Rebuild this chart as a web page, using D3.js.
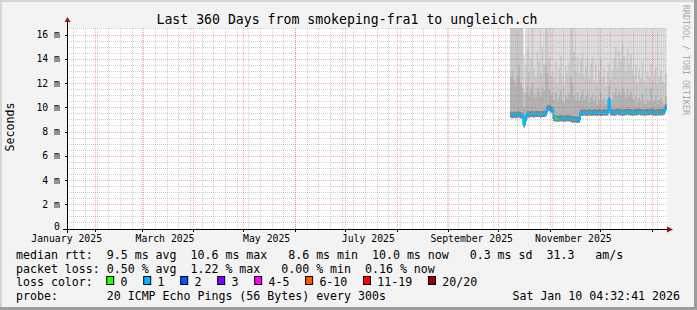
<!DOCTYPE html>
<html>
<head>
<meta charset="utf-8">
<script src="https://cdn.jsdelivr.net/npm/d3@7"></script>
<style>
  body { margin: 0; background: #f3f3f3; }
  svg { display: block; }
  text { font-family: "DejaVu Sans Mono", monospace; white-space: pre; }
</style>
</head>
<body>
<div class="panel"></div>
<script>
const width = 697;
const height = 310;
const plot = {left: 67, right: 667, top: 28, bottom: 228.5};

// one bin per day, starting 2025-10-08
const firstDay = Date.UTC(2025, 9, 8);

const median = [
  9.4, 9.35, 9.4, 9.35, 9.4, 9.4, 9.35, 9.3,
  8.6, 9.1,
  9.45, 9.4, 9.45, 9.45, 9.4, 9.45, 9.45, 9.45, 9.4, 9.45, 9.45, 9.5,
  9.9, 9.95, 9.85, 9.8,
  9.1, 9.1, 9.05, 9.1, 9.1, 9.1, 9.05, 9.1, 9.1, 9.1, 9.05, 9.0, 9.0,
  9.0, 8.95, 9.0,
  9.55, 9.55, 9.6, 9.55, 9.55, 9.6, 9.55, 9.55, 9.6, 9.55, 9.55, 9.6, 9.55, 9.55, 9.6, 9.55, 9.6,
  10.6,
  9.6, 9.6, 9.55, 9.6, 9.65, 9.6, 9.6, 9.55, 9.6, 9.6, 9.65, 9.6, 9.6, 9.55, 9.6, 9.6, 9.6,
  9.65, 9.6, 9.6, 9.55, 9.6, 9.6, 9.6, 9.65, 9.6, 9.6, 9.55, 9.6, 9.6, 9.6, 9.6, 9.65,
  10.0
];
const loss = [
  1, 1, 1, 1, 1, 1, 1, 1, 1, 1, 1, 1, 1, 1, 1, 1, 1, 1, 1, 1, 1, 1, 1, 1, 1, 1,
  1, 0, 0, 1, 1, 1, 1, 1, 1, 1, 1, 1, 1, 1, 1, 1,
  1, 1, 1, 1, 1, 1, 1, 1, 1, 1, 1, 1, 1, 1, 1, 1, 1, 1,
  1, 1, 1, 1, 1, 1, 1, 1, 1, 1, 1, 1, 1, 1, 1, 1, 1,
  1, 1, 1, 1, 1, 1, 1, 1, 1, 1, 1, 1, 1, 1, 1, 1, 1
];
const pingMax = [
  17.5, 17.5, 17.5, 17.5, 17.5, 17.5, 17.5, 17.5, 14.3, 17.5,
  17.5, 17.5, 17.5, 17.5, 17.5, 17.5, 17.5, 17.5, 17.5, 17.5, 17.5, 17.5, 17.5, 17.5, 17.5, 17.5,
  17.5, 17.5, 17.5, 17.5, 17.5, 17.5, 17.5, 17.5, 17.5, 17.5, 17.5, 17.5, 17.5, 17.5, 17.5, 17.5,
  17.5, 17.5, 17.5, 17.5, 17.5, 17.5, 17.5, 17.5, 17.5, 17.5, 17.5, 17.5, 17.5, 17.5, 17.5, 17.5,
  17.5, 17.5, 17.5, 17.5, 17.5, 17.5, 17.5, 17.5, 17.5, 17.5, 17.5, 17.5, 17.5, 17.5, 17.5, 17.5,
  17.5, 17.5, 17.5, 17.5, 17.5, 17.5, 17.5, 17.5, 17.5, 17.5, 17.5, 17.5, 17.5, 17.5, 17.5, 17.5,
  17.5, 17.5, 17.5, 17.5
];
const ping90 = [
  17.5, 17.5, 17.5, 17.5, 17.5, 17.5, 17.5, 17.5,
  11.2,
  13.5, 14.8, 13.0, 14.0, 16.5, 13.2, 12.5, 14.6, 13.8, 12.8, 15.0,
  13.6, 17.5, 17.5, 14.0, 12.6, 13.0,
  12.4, 13.8, 12.0, 13.2, 14.2, 12.6, 11.8, 13.4, 12.8, 13.6,
  17.5, 17.5, 14.6,
  13.0, 14.2, 12.8, 13.9, 14.5, 12.6, 13.3, 14.0, 12.4, 13.6, 14.1,
  12.2, 13.5, 11.9, 13.0, 14.0, 12.5, 13.2, 11.8, 12.9, 13.6, 12.3, 13.1,
  14.0, 15.0, 13.2, 14.6, 13.8, 15.2, 14.2, 13.0, 14.8, 13.6, 14.4, 13.1,
  12.6, 13.5, 12.0, 13.2, 12.4, 13.8, 12.2, 11.8, 13.0, 12.5, 13.6, 12.1, 12.8, 13.3, 11.9, 12.6,
  13.1, 12.3, 12.0, 12.8
];
const ping75 = [
  12.5, 13.0, 12.2, 11.8, 12.6, 13.4, 12.0, 11.6,
  10.0,
  11.2, 11.8, 10.9, 11.5, 12.0, 11.0, 10.8, 11.6, 11.3, 10.9, 11.7,
  11.4, 13.5, 12.8, 11.5, 11.0, 11.2,
  10.6, 11.2, 10.4, 10.9, 11.4, 10.5, 10.3, 11.0, 10.7, 11.1,
  12.5, 12.0, 11.0,
  10.6, 11.2, 10.5, 11.0, 11.4, 10.6, 10.9, 11.3, 10.4, 10.8, 11.1,
  10.5, 10.9, 10.3, 10.7, 11.2, 10.5, 10.8, 10.3, 10.6, 11.8, 10.4, 10.7,
  11.2, 11.6, 10.9, 11.4, 11.0, 11.7, 11.3, 10.8, 11.5, 11.0, 11.3, 10.8,
  10.6, 11.0, 10.4, 10.8, 10.5, 11.1, 10.4, 10.3, 10.7, 10.5, 11.5, 10.4, 10.6, 10.9, 10.3, 10.6,
  10.8, 10.4, 10.3, 10.9
];
const ping60 = [
  9.65, 9.6, 9.65, 9.6, 9.65, 9.65, 9.6, 9.55,
  8.85, 9.35,
  9.7, 9.65, 9.7, 9.7, 9.65, 9.7, 9.7, 9.7, 9.65, 9.7, 9.7, 9.75,
  10.15, 10.2, 10.1, 10.05,
  9.35, 9.35, 9.3, 9.35, 9.35, 9.35, 9.3, 9.35, 9.35, 9.35, 9.3, 9.25, 9.25,
  9.25, 9.2, 9.25,
  9.8, 9.8, 9.85, 9.8, 9.8, 9.85, 9.8, 9.8, 9.85, 9.8, 9.8, 9.85, 9.8, 9.8, 9.85, 9.8, 9.85,
  10.85,
  9.85, 9.85, 9.8, 9.85, 9.9, 9.85, 9.85, 9.8, 9.85, 9.85, 9.9, 9.85, 9.85, 9.8, 9.85, 9.85, 9.85,
  9.9, 9.85, 9.85, 9.8, 9.85, 9.85, 9.85, 9.9, 9.85, 9.85, 9.8, 9.85, 9.85, 9.85, 9.85, 9.9,
  10.25
];
const pingMin = [
  9.15, 9.1, 9.15, 9.1, 9.15, 9.15, 9.1, 9.05,
  8.35, 8.85,
  9.2, 9.15, 9.2, 9.2, 9.15, 9.2, 9.2, 9.2, 9.15, 9.2, 9.2, 9.25,
  9.65, 9.7, 9.6, 9.55,
  8.85, 8.85, 8.8, 8.85, 8.85, 8.85, 8.8, 8.85, 8.85, 8.85, 8.8, 8.75, 8.75,
  8.75, 8.7, 8.75,
  9.3, 9.3, 9.35, 9.3, 9.3, 9.35, 9.3, 9.3, 9.35, 9.3, 9.3, 9.35, 9.3, 9.3, 9.35, 9.3, 9.35,
  10.35,
  9.35, 9.35, 9.3, 9.35, 9.4, 9.35, 9.35, 9.3, 9.35, 9.35, 9.4, 9.35, 9.35, 9.3, 9.35, 9.35, 9.35,
  9.4, 9.35, 9.35, 9.3, 9.35, 9.35, 9.35, 9.4, 9.35, 9.35, 9.3, 9.35, 9.35, 9.35, 9.35, 9.4,
  9.75
];

const yTicks = [0, 2, 4, 6, 8, 10, 12, 14, 16];
const yTickLabels = ["0", "2 m", "4 m", "6 m", "8 m", "10 m", "12 m", "14 m", "16 m"];
const xLabelDays = ["2025-01-15", "2025-03-15", "2025-05-15", "2025-07-15", "2025-09-15", "2025-11-15"];
const lossLabels = ["0", "1", "2", "3", "4-5", "6-10", "11-19", "20/20"];
const lossColors = ["#26ff00", "#00b8ff", "#0059ff", "#7e00ff", "#ff00ff", "#ff5500", "#ff0000", "#a10000"];
const legendRows = [
  "median rtt:  9.5 ms avg  10.6 ms max   8.6 ms min  10.0 ms now   0.3 ms sd  31.3   am/s",
  "packet loss: 0.50 % avg  1.22 % max   0.00 % min  0.16 % now"
];

const startTime = new Date(Date.UTC(2025, 0, 15, 4, 32, 41));
const endTime = new Date(Date.UTC(2026, 0, 10, 4, 32, 41));

const x = d3.scaleUtc().domain([startTime, endTime]).range([plot.left, plot.right]);
const y = d3.scaleLinear().domain([0, 16.54]).range([plot.bottom, plot.top]);

const bins = median.map((m, i) => ({
  t0: new Date(firstDay + i * 864e5),
  t1: new Date(firstDay + (i + 1) * 864e5),
  median: m, loss: loss[i],
  max: pingMax[i], p90: ping90[i], p75: ping75[i], p60: ping60[i], min: pingMin[i]
}));

const svg = d3.select(".panel").append("svg")
  .attr("width", width).attr("height", height);

// frame
svg.append("rect").attr("width", width).attr("height", height).attr("fill", "#f3f3f3");
svg.append("rect").attr("x", 0).attr("y", 0).attr("width", width).attr("height", 2).attr("fill", "#d6d6d6");
svg.append("rect").attr("x", 0).attr("y", 0).attr("width", 2).attr("height", height).attr("fill", "#d6d6d6");
svg.append("rect").attr("x", width - 3).attr("y", 0).attr("width", 3).attr("height", height).attr("fill", "#9c9c9c");
svg.append("rect").attr("x", 0).attr("y", height - 3).attr("width", width).attr("height", 3).attr("fill", "#9c9c9c");

// canvas
svg.append("rect")
  .attr("x", plot.left).attr("y", plot.top)
  .attr("width", plot.right - plot.left).attr("height", plot.bottom - plot.top)
  .attr("fill", "#ffffff");

svg.append("clipPath").attr("id", "clip")
  .append("rect")
  .attr("x", plot.left).attr("y", plot.top)
  .attr("width", plot.right - plot.left).attr("height", plot.bottom - plot.top);

// smoke: stepped areas, widest band first
const smoke = svg.append("g").attr("clip-path", "url(#clip)");
const area = d3.area().x(d => x(d.t)).y0(d => y(d.lo)).y1(d => y(d.hi));
function band(hiKey, color) {
  const pts = [];
  bins.forEach(b => {
    pts.push({t: b.t0, lo: b.min, hi: b[hiKey]});
    pts.push({t: b.t1, lo: b.min, hi: b[hiKey]});
  });
  smoke.append("path").attr("d", area(pts)).attr("fill", color);
}
band("max", "#dcdcdc");
band("p90", "#c8c8c8");
band("p75", "#b2b2b2");
band("p60", "#828282");

// median line, coloured by loss
const medLine = d3.line().x(d => x(d.t)).y(d => y(d.v));
const medPts = [];
bins.forEach(b => {
  medPts.push({t: b.t0, v: b.median});
  medPts.push({t: b.t1, v: b.median});
});
smoke.append("path").attr("d", medLine(medPts))
  .attr("fill", "none").attr("stroke", lossColors[1]).attr("stroke-width", 2);
bins.filter(b => b.loss !== 1).forEach(b => {
  smoke.append("line")
    .attr("x1", x(b.t0)).attr("x2", x(b.t1))
    .attr("y1", y(b.median)).attr("y2", y(b.median))
    .attr("stroke", lossColors[b.loss]).attr("stroke-width", 2);
});

// grid on top
const grid = svg.append("g").attr("shape-rendering", "crispEdges");
const snap = v => Math.round(v) + 0.5;
const minorColor = "rgba(150,150,150,0.45)";
const majorColor = "rgba(255,0,0,0.3)";
d3.range(0, 16.51, 0.5).filter(v => v % 2 !== 0).forEach(v => {
  grid.append("line").attr("x1", plot.left).attr("x2", plot.right)
    .attr("y1", snap(y(v))).attr("y2", snap(y(v)))
    .attr("stroke", minorColor).attr("stroke-dasharray", "1,1");
});
d3.utcSunday.range(startTime, endTime).forEach(d => {
  grid.append("line").attr("x1", snap(x(d))).attr("x2", snap(x(d)))
    .attr("y1", plot.top).attr("y2", plot.bottom)
    .attr("stroke", minorColor).attr("stroke-dasharray", "1,1");
});
yTicks.filter(v => v > 0).forEach(v => {
  grid.append("line").attr("x1", plot.left).attr("x2", plot.right)
    .attr("y1", snap(y(v))).attr("y2", snap(y(v)))
    .attr("stroke", majorColor).attr("stroke-dasharray", "1,1");
});
d3.utcMonth.range(startTime, endTime).forEach(d => {
  grid.append("line").attr("x1", snap(x(d))).attr("x2", snap(x(d)))
    .attr("y1", plot.top).attr("y2", plot.bottom)
    .attr("stroke", majorColor).attr("stroke-dasharray", "1,1");
});

// axes
const axes = svg.append("g").attr("shape-rendering", "crispEdges");
axes.append("line").attr("x1", plot.left - 4).attr("x2", plot.right + 1)
  .attr("y1", snap(plot.bottom)).attr("y2", snap(plot.bottom)).attr("stroke", "#000");
axes.append("line").attr("x1", snap(plot.left)).attr("x2", snap(plot.left))
  .attr("y1", plot.bottom + 4).attr("y2", plot.top - 6).attr("stroke", "#000");
d3.utcMonth.range(startTime, endTime).forEach(d => {
  axes.append("line").attr("x1", snap(x(d))).attr("x2", snap(x(d)))
    .attr("y1", plot.bottom).attr("y2", plot.bottom + 3).attr("stroke", "#000");
});
yTicks.forEach(v => {
  axes.append("line").attr("x1", plot.left - 2).attr("x2", plot.left)
    .attr("y1", snap(y(v))).attr("y2", snap(y(v))).attr("stroke", "#000");
});
svg.append("path")
  .attr("d", `M${plot.right},${snap(plot.bottom) - 3}L${plot.right + 6},${snap(plot.bottom)}L${plot.right},${snap(plot.bottom) + 3}Z`)
  .attr("fill", "#8b1a1a");
svg.append("path")
  .attr("d", `M${snap(plot.left) - 3},${plot.top - 6}L${snap(plot.left)},${plot.top - 11}L${snap(plot.left) + 3},${plot.top - 6}Z`)
  .attr("fill", "#8b1a1a");

// tick labels
svg.selectAll(".ylab").data(yTicks).enter().append("text")
  .attr("x", 60).attr("y", v => y(v) + (v === 0 ? 1.5 : 3.5))
  .attr("text-anchor", "end").attr("font-size", "9.8px").attr("fill", "#000")
  .text((v, i) => yTickLabels[i]);

const parseDay = d3.utcParse("%Y-%m-%d");
svg.selectAll(".xlab").data(xLabelDays.map(parseDay)).enter().append("text")
  .attr("x", d => x(d)).attr("y", 241.5)
  .attr("text-anchor", "middle").attr("font-size", "9.8px").attr("fill", "#000")
  .text(d => d3.utcFormat("%B %Y")(d));

// title and side texts
svg.append("text").attr("x", 347).attr("y", 24)
  .attr("text-anchor", "middle").attr("font-size", "13.2px").attr("fill", "#000")
  .text("Last 360 Days from smokeping-fra1 to ungleich.ch");
svg.append("text").attr("transform", "translate(14,127) rotate(-90)")
  .attr("text-anchor", "middle").attr("font-size", "11.6px").attr("fill", "#000")
  .text("Seconds");
svg.append("text").attr("transform", "translate(683,5) rotate(90)")
  .attr("text-anchor", "start").attr("font-size", "8.3px").attr("fill", "#a8a8a8")
  .text("RRDTOOL / TOBI OETIKER");

// legend
const legendX = 16;
const cw = 6.98;
const rowY = i => 259 + i * 13.7;
svg.selectAll(".leg").data(legendRows).enter().append("text")
  .attr("x", legendX).attr("y", (d, i) => rowY(i))
  .attr("font-size", "11.6px").attr("fill", "#000")
  .text(d => d);
svg.append("text").attr("x", legendX).attr("y", rowY(2))
  .attr("font-size", "11.6px").attr("fill", "#000").text("loss color:");
let lx = legendX + 13 * cw - 0.5;
lossLabels.forEach((lab, i) => {
  svg.append("rect").attr("x", lx + 0.5).attr("y", 276.5).attr("width", 7).attr("height", 8)
    .attr("fill", lossColors[i]).attr("stroke", "#000").attr("stroke-width", 1);
  svg.append("text").attr("x", lx + 14.3).attr("y", rowY(2))
    .attr("font-size", "11.6px").attr("fill", "#000").text(lab);
  lx += 30 + cw * lab.length;
});
svg.append("text").attr("x", legendX).attr("y", rowY(3))
  .attr("font-size", "11.6px").attr("fill", "#000")
  .text("probe:       20 ICMP Echo Pings (56 Bytes) every 300s");
svg.append("text").attr("x", 680).attr("y", rowY(3))
  .attr("text-anchor", "end").attr("font-size", "11.6px").attr("fill", "#000")
  .text("Sat Jan 10 04:32:41 2026");
</script>
</body>
</html>
